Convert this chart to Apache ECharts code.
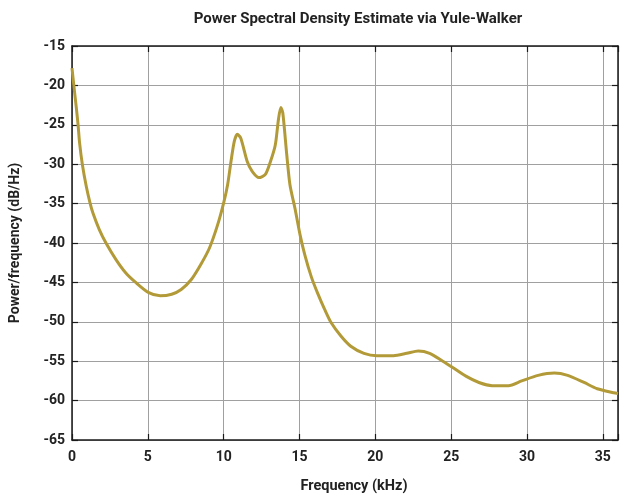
<!DOCTYPE html>
<html>
<head>
<meta charset="utf-8">
<script src="https://cdn.jsdelivr.net/npm/echarts@6/dist/echarts.min.js"></script>
<style>
html,body{margin:0;padding:0;background:#fff;}
#chart{width:621px;height:499px;}
</style>
</head>
<body>
<div id="chart"></div>
<script>
const freqKHz = [0, 0.12, 0.3, 0.4, 0.5, 0.68, 0.95, 1.2, 1.38, 1.8, 2.24, 2.9, 3.55, 4.2, 5.06, 5.82, 6.57, 7.2, 7.88, 8.53, 9.07, 9.6, 10.0, 10.26, 10.48, 10.7, 10.9, 11.13, 11.56, 11.88, 12.32, 12.75, 13.08, 13.4, 13.62, 13.77, 13.9, 14.16, 14.37, 14.7, 15.03, 15.35, 15.78, 16.2, 16.65, 17.08, 17.73, 18.38, 19.25, 20.1, 21.2, 22.07, 22.83, 23.58, 24.45, 25.1, 25.97, 26.83, 27.7, 28.78, 29.65, 30.73, 31.8, 32.68, 33.76, 34.63, 35.71, 36.0];
const psdDb = [-17.8, -20, -23.1, -25, -27.3, -30, -32.9, -35, -36.2, -38.3, -40, -42.1, -43.8, -45, -46.3, -46.7, -46.5, -45.9, -44.6, -42.6, -40.6, -37.7, -34.9, -32.6, -29.7, -27.1, -26.2, -26.7, -29.7, -30.9, -31.7, -31.3, -29.7, -27.6, -24.2, -22.8, -23.5, -28.8, -32.6, -35.6, -38.9, -41.5, -44.3, -46.4, -48.4, -50.1, -51.8, -53.1, -54.0, -54.3, -54.3, -54.0, -53.7, -54.0, -55.0, -55.8, -56.9, -57.7, -58.1, -58.1, -57.5, -56.8, -56.5, -56.8, -57.7, -58.5, -59.0, -59.1];
const xRange = [0, 36];
const yRange = [-65, -15];
const titleText = 'Power Spectral Density Estimate via Yule-Walker';
const xName = 'Frequency (kHz)';
const yName = 'Power/frequency (dB/Hz)';

const font = 'Roboto, "Noto Sans", sans-serif';
const chart = echarts.init(document.getElementById('chart'), null, {renderer: 'canvas'});
const data = freqKHz.map((f, i) => [f, psdDb[i]]);
const axisLineStyle = {color: '#1a1a1a', width: 1.5};
const tickStyle = {show: true, inside: true, length: 6, lineStyle: {color: '#1a1a1a', width: 1.2}};
const baseX = {
  type: 'value', min: xRange[0], max: xRange[1], interval: 5,
  axisLine: {show: true, onZero: false, lineStyle: axisLineStyle},
  axisTick: tickStyle,
  splitLine: {show: false}
};
const baseY = {
  type: 'value', min: yRange[0], max: yRange[1], interval: 5,
  axisLine: {show: true, onZero: false, lineStyle: axisLineStyle},
  axisTick: tickStyle,
  splitLine: {show: false}
};
chart.setOption({
  animation: false,
  backgroundColor: '#fff',
  title: {
    text: titleText, left: 353, top: 7, textAlign: 'center',
    textStyle: {fontFamily: font, fontSize: 15, fontWeight: 'bold', color: '#222'}
  },
  grid: {left: 70.5, width: 554, top: 46, height: 395, containLabel: false},
  xAxis: [
    Object.assign({}, baseX, {
      position: 'bottom',
      name: xName, nameLocation: 'middle', nameGap: 39,
      nameTextStyle: {fontFamily: font, fontSize: 14.5, fontWeight: 'bold', color: '#222', padding: [0, 0, 0, 18]},
      axisLabel: {show: true, margin: 10, fontFamily: font, fontSize: 14, fontWeight: 'bold', color: '#222',
        formatter: v => (Math.abs(v % 5) < 1e-9 ? String(v) : '')},
      splitLine: {show: true, lineStyle: {color: '#a0a0a0', width: 1}}
    }),
    Object.assign({}, baseX, {position: 'top', axisLabel: {show: false}})
  ],
  yAxis: [
    Object.assign({}, baseY, {
      position: 'left',
      name: yName, nameLocation: 'middle', nameGap: 50,
      nameTextStyle: {fontFamily: font, fontSize: 14, fontWeight: 'bold', color: '#222'},
      axisLabel: {show: true, margin: 7, fontFamily: font, fontSize: 14, fontWeight: 'bold', color: '#222'},
      splitLine: {show: true, lineStyle: {color: '#a0a0a0', width: 1}}
    }),
    Object.assign({}, baseY, {position: 'right', axisLabel: {show: false}})
  ],
  series: [{
    type: 'line', data: data, xAxisIndex: 0, yAxisIndex: 0,
    showSymbol: false, smooth: 0.25,
    lineStyle: {color: '#b39a38', width: 3},
    clip: true
  }]
});
</script>
</body>
</html>
